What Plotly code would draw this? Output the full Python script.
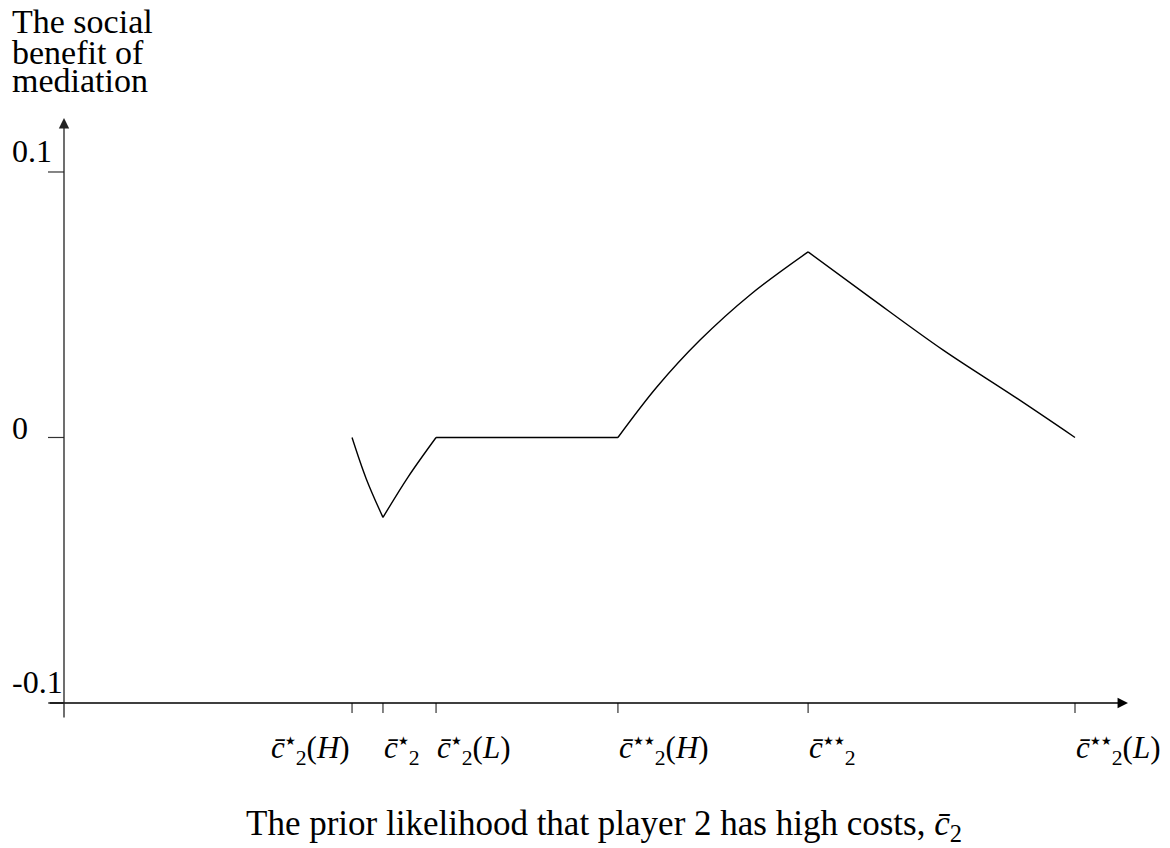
import plotly.graph_objects as go

# ---------------- data ----------------
# x: prior likelihood (arbitrary units, y-axis at 0, last tick at 1)
dip_down_x = [0.2849, 0.2989, 0.3155]
dip_down_y = [0.0, -0.0155, -0.0301]
dip_up_x = [0.3155, 0.3403, 0.3680]
dip_up_y = [-0.0301, -0.0149, 0.0]
flat_x = [0.3680, 0.5479]
flat_y = [0.0, 0.0]
rise_x = [0.5479, 0.5866, 0.6291, 0.6785, 0.7360]
rise_y = [0.0, 0.0191, 0.0367, 0.0537, 0.0699]
fall_x = [0.7360, 0.7986, 0.8693, 0.9400, 1.0]
fall_y = [0.0699, 0.0524, 0.0330, 0.0154, 0.0]

x_tick_vals = [0.2849, 0.3155, 0.3680, 0.5479, 0.7360, 1.0]
x_tick_stars = ["★", "★", "★", "★★", "★★", "★★"]
x_tick_suffix = ["(<i>H</i>)", "", "(<i>L</i>)", "(<i>H</i>)", "", "(<i>L</i>)"]

y_tick_vals = [0.1, 0.0, -0.1]
y_tick_text = ["0.1", "0", "-0.1"]

y_title_lines = ["The social", "benefit of", "mediation"]
x_title = "The prior likelihood that player 2 has high costs, <i>c̄</i><sub>2</sub>"

# ---------------- styles / layout ----------------
FONT = "Liberation Serif"
X_MIN, X_MAX = -0.02374, 1.06429
Y_MIN, Y_MAX = -0.10829, 0.12335
X_AXIS_Y = -0.1
AX_TAIL_X, AX_TIP_X = -0.0158, 1.0524
AY_TAIL_Y, AY_TIP_Y = -0.106, 0.1203
LINE_STYLE = dict(color="black", width=1.4, shape="spline", smoothing=1.0)

fig = go.Figure()
for xs, ys in [(dip_down_x, dip_down_y), (dip_up_x, dip_up_y), (flat_x, flat_y),
               (rise_x, rise_y), (fall_x, fall_y)]:
    fig.add_trace(go.Scatter(x=xs, y=ys, mode="lines", line=LINE_STYLE,
                             showlegend=False, hoverinfo="skip"))

annotations = []
shapes = []

# axes with arrowheads
annotations.append(dict(x=AX_TIP_X, y=X_AXIS_Y, ax=AX_TAIL_X, ay=X_AXIS_Y,
                        xref="x", yref="y", axref="x", ayref="y", text="",
                        showarrow=True, arrowhead=2, arrowsize=1.6, arrowwidth=1.3,
                        arrowcolor="black", standoff=0, startstandoff=0))
annotations.append(dict(x=0, y=AY_TIP_Y, ax=0, ay=AY_TAIL_Y,
                        xref="x", yref="y", axref="x", ayref="y", text="",
                        showarrow=True, arrowhead=2, arrowsize=1.6, arrowwidth=1.3,
                        arrowcolor="#222", standoff=0, startstandoff=0))

# x ticks + labels
for i, (xv, stars, suf) in enumerate(zip(x_tick_vals, x_tick_stars, x_tick_suffix)):
    shapes.append(dict(type="line", xref="x", yref="y", ysizemode="pixel",
                       yanchor=X_AXIS_Y, x0=xv, x1=xv, y0=0, y1=-10,
                       line=dict(color="#333", width=1.2)))
    label = ("<i>c̄</i><sup><span style='font-size:12px'>" + stars +
             "</span></sup><sub>2</sub>" + suf)
    anchor = "right" if i == 0 else "left"
    annotations.append(dict(x=xv, y=X_AXIS_Y, xref="x", yref="y", text=label,
                            showarrow=False, xanchor=anchor, yanchor="middle",
                            xshift=0 if i == 0 else -1, yshift=-47,
                            font=dict(family=FONT, size=31, color="black")))

# y ticks + labels
y_label_shift = [21, 9.5, 21]
for yv, txt, ys in zip(y_tick_vals, y_tick_text, y_label_shift):
    shapes.append(dict(type="line", xref="x", yref="y", xsizemode="pixel",
                       xanchor=0, x0=-16, x1=0, y0=yv, y1=yv,
                       line=dict(color="#333", width=1.2)))
    annotations.append(dict(x=0, y=yv, xref="x", yref="y", text=txt, showarrow=False,
                            xanchor="left", yanchor="middle", xshift=-54, yshift=ys,
                            font=dict(family=FONT, size=32, color="black")))

# axis titles
for line, py in zip(y_title_lines, [1.1431, 1.0943, 1.0472]):
    annotations.append(dict(x=-0.0275, y=py, xref="paper", yref="paper", text=line,
                            showarrow=False, xanchor="left", yanchor="middle",
                            font=dict(family=FONT, size=34, color="black")))
annotations.append(dict(x=0.5127, y=-0.1640, xref="paper", yref="paper", text=x_title,
                        showarrow=False, xanchor="center", yanchor="middle",
                        font=dict(family=FONT, size=35, color="black")))

fig.update_layout(
    width=1170, height=848,
    margin=dict(l=40, r=30, t=110, b=123, autoexpand=False),
    paper_bgcolor="white", plot_bgcolor="white",
    xaxis=dict(range=[X_MIN, X_MAX], visible=False, fixedrange=True),
    yaxis=dict(range=[Y_MIN, Y_MAX], visible=False, fixedrange=True),
    annotations=annotations, shapes=shapes,
    showlegend=False,
)

fig.write_html("out.html", config={"displayModeBar": False},
               post_script="document.body.style.margin='0';")
